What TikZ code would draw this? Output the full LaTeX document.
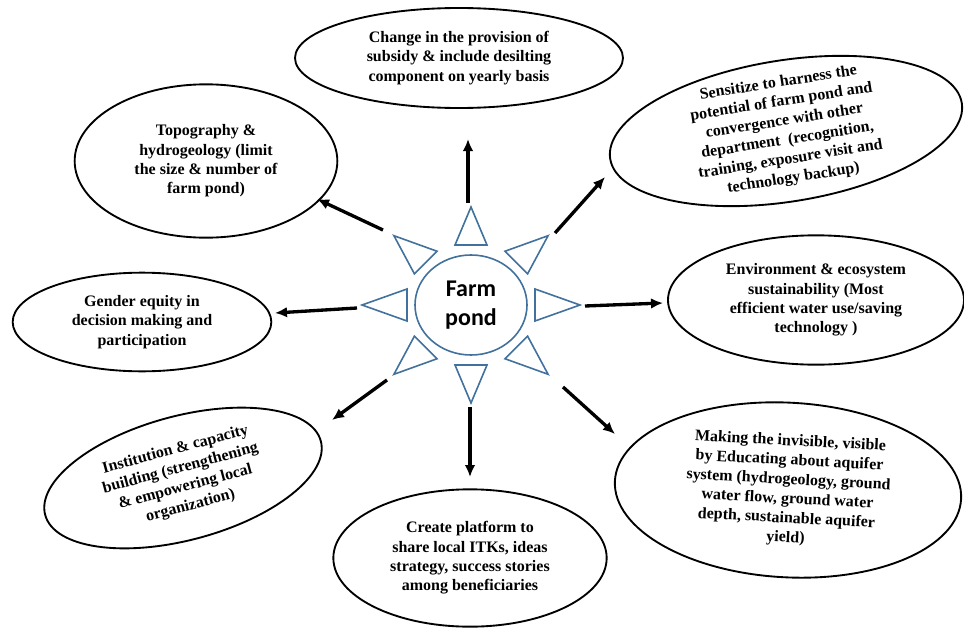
\documentclass[tikz,border=0pt]{standalone}
\usepackage{fontspec}
\setmainfont{Liberation Serif}
\newfontfamily\calibri{Carlito}
\usetikzlibrary{shapes.geometric,calc,arrows.meta}
\definecolor{bleu}{HTML}{41719C}

\begin{document}
\begin{tikzpicture}[x=0.75pt, y=-0.75pt]
	\tikzset{bulle/.style={ellipse, draw=black, line width=1.4pt, inner sep=-12pt, align=center, font=\bfseries\fontsize{12}{14.5}\selectfont},
	fleche/.style={line width=2.5pt, -{Latex[length=9pt,width=8pt]}},
	rayon/.style={draw=bleu, line width=1.2pt, line join=miter}};

	\useasboundingbox (0,0) rectangle (964,628);

	\node[ellipse, draw=bleu, line width=1.2pt, minimum width=84pt, minimum height=75pt, inner sep=0pt, align=center, font=\calibri\bfseries\fontsize{18}{22}\selectfont] (pond) at (471,305) {Farm\\pond};

	\foreach \a in {0,45,...,315}{
		\draw[rayon] ($(pond.center)+(\a:81.75pt and 73.5pt)$) -- ($(pond.center)+(\a:48pt and 45pt)+(\a+90:12pt)$) -- ($(pond.center)+(\a:48pt and 45pt)+(\a-90:12pt)$) -- cycle;
	}

	\node[bulle, minimum width=246pt, minimum height=75pt] (subsidy) at (459,58) {Change in the provision of\\subsidy \& include desilting\\component on yearly basis};
	\node[bulle, minimum width=267pt, minimum height=106pt, rotate=9] (sensitize) at (786,131) {Sensitize to harness the\\potential of farm pond and\\convergence with other\\department~ (recognition,\\training, exposure visit and\\technology backup)};
	\node[bulle, minimum width=197pt, minimum height=115pt] (topo) at (206,161) {Topography \&\\hydrogeology (limit\\the size \& number of\\farm pond)};
	\node[bulle, minimum width=194pt, minimum height=74pt] (gender) at (142,322) {Gender equity in\\decision making and\\participation};
	\node[bulle, minimum width=222pt, minimum height=97pt] (environ) at (816,300) {Environment \& ecosystem\\sustainability (Most\\efficient water use/saving\\technology )};
	\node[bulle, minimum width=214pt, minimum height=93pt, rotate=15] (institution) at (183,478) {Institution \& capacity\\building (strengthening\\\& empowering local\\organization)};
	\node[bulle, minimum width=205pt, minimum height=103pt] (platform) at (470,558) {Create platform to\\share local ITKs, ideas\\strategy, success stories\\among beneficiaries};
	\node[bulle, minimum width=260pt, minimum height=131pt, rotate=-3] (aquifer) at (788,490) {Making the invisible, visible\\by Educating about aquifer\\system (hydrogeology, ground\\water flow, ground water\\depth, sustainable aquifer\\yield)};

	\foreach \name/\sx/\sy/\ex/\ey in {n/468/203/468/139, ne/555/233/605/177, e/585/306/663/303, se/563/387/615/434, s/470/407/470/477, sw/387/380/332/420, w/357/308/275/313, nw/383/230/317/199}{
		\coordinate (d-\name) at (\sx,\sy);
		\coordinate (a-\name) at (\ex,\ey);
		\draw[fleche] (d-\name) -- (a-\name);
	}
\end{tikzpicture}
\end{document}
